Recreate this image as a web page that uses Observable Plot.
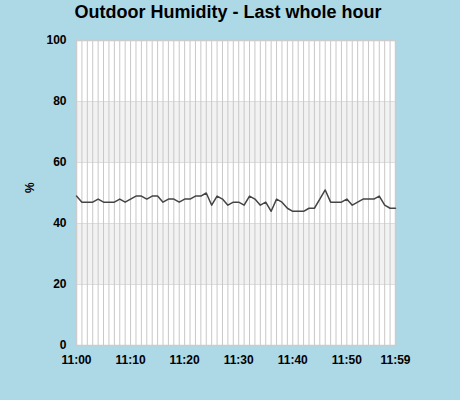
<!DOCTYPE html>
<html><head><meta charset="utf-8">
<script src="https://cdn.jsdelivr.net/npm/d3@7"></script>
<script src="https://cdn.jsdelivr.net/npm/@observablehq/plot@0.6"></script>
<style>
body{margin:0;background:#add8e6;font-family:"Liberation Sans",Arial,sans-serif;}
#title{height:30px;width:456px;text-align:center;font-weight:bold;font-size:18px;line-height:24px;color:#000;}
</style></head><body>
<div id="title">Outdoor Humidity - Last whole hour</div>
<div id="chart"></div>
<script>
const minutes = d3.range(0, 60);
const humidity = [49,47,47,47,48,47,47,47,48,47,48,49,49,48,49,49,47,48,48,47,
                  48,48,49,49,50,46,49,48,46,47,47,46,49,48,46,47,44,48,47,45,
                  44,44,44,45,45,48,51,47,47,47,48,46,47,48,48,48,49,46,45,45];
const xTicks = [0,10,20,30,40,50,59];
const yTicks = [0,20,40,60,80,100];
const bands = [{lo:20,hi:40},{lo:60,hi:80}];
const data = minutes.map((m,i)=>({m, v: humidity[i]}));
const fmt = d => "11:" + String(d).padStart(2,"0");
const plot = Plot.plot({
  width: 460, height: 370,
  marginTop: 10, marginBottom: 55, marginLeft: 76, marginRight: 65,
  style: {background: "transparent", fontFamily: '"Liberation Sans", Arial, sans-serif', fontSize: "12px", fontWeight: "bold", color: "#000"},
  x: {domain: [0,59], ticks: xTicks, tickFormat: fmt, tickSize: 0, label: null},
  y: {domain: [0,100], ticks: yTicks, tickSize: 0, label: null},
  marks: [
    Plot.rect([0], {x1: 0, x2: 59, y1: 0, y2: 100, fill: "white"}),
    Plot.rect(bands, {x1: () => 0, x2: () => 59, y1: "lo", y2: "hi", fill: "#f2f2f2"}),
    Plot.ruleY([20,40,60,80], {stroke: "#ddd", strokeWidth: 1}),
    Plot.ruleX(minutes, {stroke: "#c8c8c8", strokeWidth: 1}),
    Plot.frame({stroke: "#ccc", strokeWidth: 1.5}),
    Plot.line(data, {x: "m", y: "v", stroke: "#444", strokeWidth: 1.5}),
    Plot.axisX({ticks: xTicks, tickFormat: fmt, tickSize: 0, tickPadding: 10, fontWeight: "bold", fontSize: 12, label: null}),
    Plot.axisY({ticks: yTicks, tickSize: 0, tickPadding: 10, fontWeight: "bold", fontSize: 12, label: null}),
    Plot.text(["%"], {frameAnchor: "left", dx: -46, rotate: -90, fontWeight: "bold", fontSize: 12})
  ]
});
document.getElementById("chart").appendChild(plot);
</script>
</body></html>
